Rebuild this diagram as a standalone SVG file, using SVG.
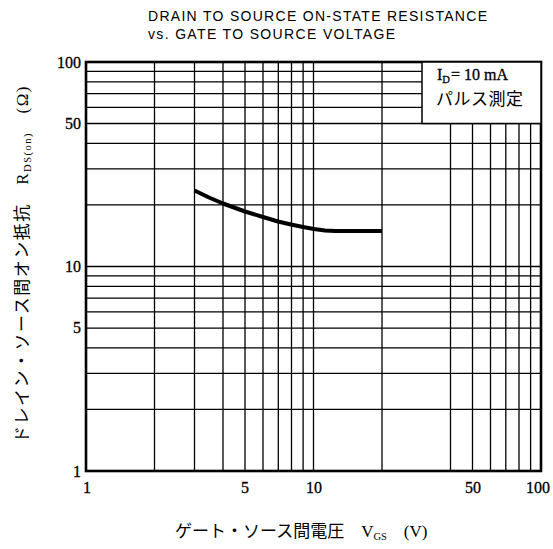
<svg xmlns="http://www.w3.org/2000/svg" width="553" height="549" viewBox="0 0 553 549">
<style>
.g{stroke:#000;stroke-width:1.3;fill:none}
.frame{stroke:#000;stroke-width:2.6;fill:none}
.tick{font-family:"Liberation Serif",serif;font-size:16px;fill:#000;stroke:#000;stroke-width:0.3}
.title{font-family:"Liberation Sans",Arial,sans-serif;font-size:14px;fill:#000}
.jp{font-family:"Liberation Serif","Noto Sans CJK JP",serif;font-size:17px;fill:#000}
.sub{font-family:"Liberation Serif",serif;font-size:10.5px}
</style>
<rect width="553" height="549" fill="#fff"/>
<g id="title">
<text class="title" x="148" y="21" textLength="339" lengthAdjust="spacing">DRAIN TO SOURCE ON-STATE RESISTANCE</text>
<text class="title" x="148" y="39" textLength="247" lengthAdjust="spacing">vs. GATE TO SOURCE VOLTAGE</text>
</g>
<g id="grid">
<path class="g" d="M154.5,62V471M194.5,62V471M223,62V471M245,62V471M263,62V471M278.3,62V471M291.5,62V471M303.1,62V471M313.5,62V471M382,62V471M450.5,123.5V471M472.5,123.5V471M490.5,123.5V471M505.8,123.5V471M519,123.5V471M530.6,123.5V471"/>
<path class="g" d="M86,409.4H541M86,373.4H541M86,347.9H541M86,328.1H541M86,311.9H541M86,298.2H541M86,286.3H541M86,275.9H541M86,266.5H541M86,204.9H541M86,168.9H541M86,143.4H541M86,123.5H541M86,107.4H422M86,93.7H422M86,81.8H422M86,71.4H422"/>
<rect class="frame" x="86" y="62" width="455" height="409"/>
</g>
<g id="legend">
<rect x="422" y="62" width="119" height="61.5" fill="#fff" stroke="#000" stroke-width="1.5"/>
<text class="tick" x="437" y="80" font-size="14.5">I<tspan class="sub" dy="3">D</tspan><tspan dy="-3" dx="1">= 10 mA</tspan></text>
<text class="jp" x="436" y="105" font-size="13" letter-spacing="0.5">パルス測定</text>
</g>
<g id="curve">
<polyline points="194.5,190.5 209,197.5 223,203.5 245,211.5 263,217 278,221.5 291,224.5 303,227 314,229 325,230.5 335,231 382,231" fill="none" stroke="#000" stroke-width="4" stroke-linejoin="round"/>
</g>
<g id="yticks" class="tick" text-anchor="end">
<text x="81" y="68">100</text>
<text x="81" y="129">50</text>
<text x="81" y="272">10</text>
<text x="81" y="333">5</text>
<text x="81" y="477">1</text>
</g>
<g id="xticks" class="tick" text-anchor="middle">
<text x="87" y="493">1</text>
<text x="245" y="493">5</text>
<text x="314" y="493">10</text>
<text x="473" y="493">50</text>
<text x="538" y="493">100</text>
</g>
<g id="xlabel">
<text class="jp" x="175" y="537">ゲート・ソース間電圧　V<tspan class="sub" dy="3">GS</tspan><tspan dy="-3">　(V)</tspan></text>
</g>
<g id="ylabel">
<text class="jp" transform="translate(28,264) rotate(-90)" text-anchor="middle" letter-spacing="1.5">ドレイン・ソース間オン抵抗　R<tspan class="sub" dy="3">DS(on)</tspan><tspan dy="-3">　(Ω)</tspan></text>
</g>
</svg>
